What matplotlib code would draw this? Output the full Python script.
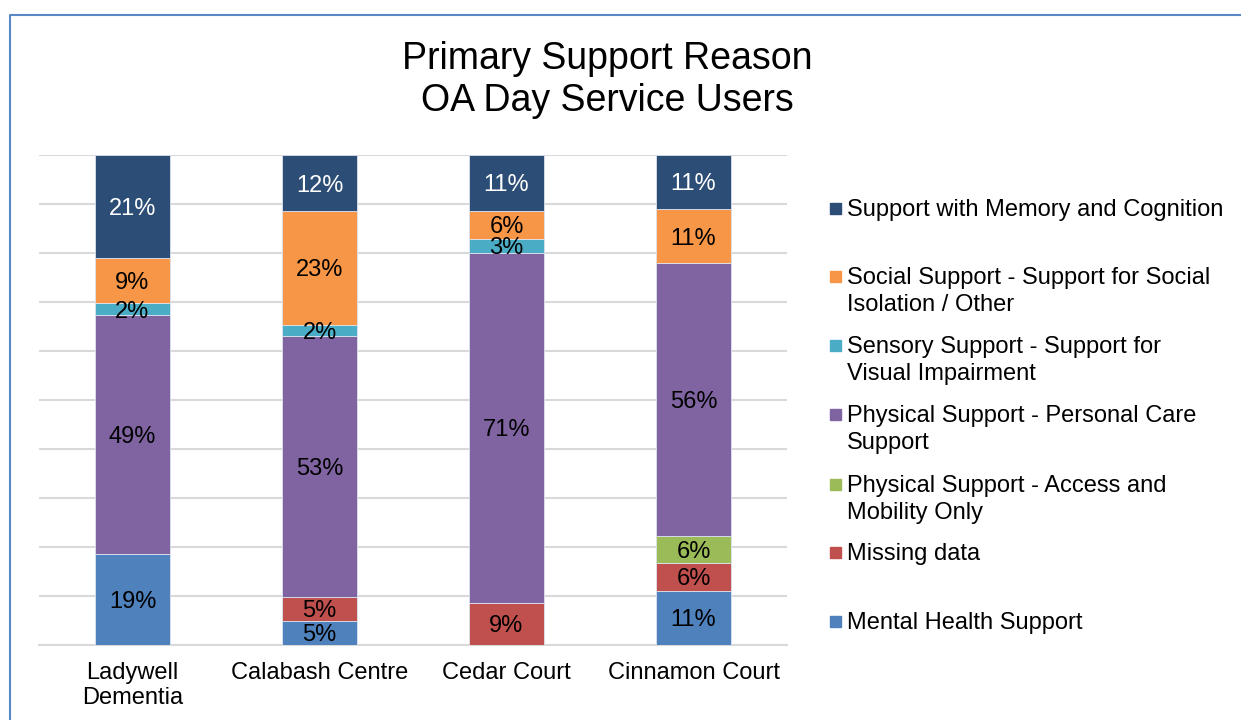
import matplotlib
matplotlib.use("Agg")
import matplotlib.pyplot as plt
from matplotlib.patches import Rectangle
from matplotlib.lines import Line2D

plt.rcParams['font.family'] = ['Liberation Sans', 'DejaVu Sans']

W, H = 1241, 720

sites = ["Ladywell\nDementia", "Calabash Centre", "Cedar Court", "Cinnamon Court"]

# stacked bottom -> top
mental_health = [18.6, 4.9, 0, 11.1]
missing_data = [0, 4.9, 8.6, 5.6]
access_mobility = [0, 0, 0, 5.6]
personal_care = [48.8, 53.3, 71.4, 55.6]
sensory = [2.3, 2.3, 2.9, 0]
social = [9.3, 23.1, 5.7, 11.1]
memory = [20.9, 11.5, 11.4, 11.1]

series_names = ["Mental Health Support", "Missing data",
                "Physical Support - Access and\nMobility Only",
                "Physical Support - Personal Care\nSupport",
                "Sensory Support - Support for\nVisual Impairment",
                "Social Support - Support for Social\nIsolation / Other",
                "Support with Memory and Cognition"]
series = [mental_health, missing_data, access_mobility, personal_care,
          sensory, social, memory]
colors = ["#4F81BD", "#C0504D", "#9BBB59", "#8064A2", "#4BACC6", "#F79646", "#2C4D75"]
label_colors = ["black", "black", "black", "black", "black", "black", "white"]

fig = plt.figure(figsize=(W / 100, H / 100), dpi=100)
ax = fig.add_axes([39 / W, 1 - 645 / H, 748 / W, 490 / H])

x = list(range(len(sites)))
bottom = [0] * len(sites)
for vals, col, lc in zip(series, colors, label_colors):
    ax.bar(x, vals, 0.4, bottom=bottom, color=col, edgecolor="#DCE3EE",
           linewidth=0.6, zorder=3)
    for i, v in enumerate(vals):
        if v > 0:
            ax.text(i, bottom[i] + v / 2, "%.0f%%" % v, ha="center",
                    va="center_baseline", fontsize=17, color=lc, zorder=4)
    bottom = [b + v for b, v in zip(bottom, vals)]

ax.set_xlim(-0.5, 3.5)
ax.set_ylim(0, 100)
ax.set_yticks(range(0, 101, 10))
ax.yaxis.grid(True, color="#D9D9D9", linewidth=1.5, zorder=0)
ax.set_yticklabels([])
ax.tick_params(axis="y", length=0)
ax.set_xticks(x)
ax.set_xticklabels(sites, fontsize=17)
ax.tick_params(axis="x", length=0, pad=12)
for s in ["top", "right", "left"]:
    ax.spines[s].set_visible(False)
ax.spines["bottom"].set_color("#D9D9D9")
ax.spines["bottom"].set_linewidth(1.5)

# title
fig.text(607 / W, 1 - 41 / H, "Primary Support Reason\nOA Day Service Users",
         ha="center", va="top", fontsize=27, linespacing=1.22)

# legend, drawn by hand to keep Excel's spacing
legend_y = [208, 276, 345, 414, 484, 552, 621]
for name, col, y in zip(series_names[::-1], colors[::-1], legend_y):
    fig.add_artist(Rectangle((830 / W, 1 - (y + 6) / H), 11 / W, 11 / H,
                             transform=fig.transFigure, color=col))
    for k, line in enumerate(name.split("\n")):
        fig.text(847 / W, 1 - (y + 2 + 27 * k) / H, line, ha="left", va="center",
                 fontsize=17)

# chart border
fig.add_artist(Line2D([10 / W, 10 / W, 1], [0, 1 - 15 / H, 1 - 15 / H],
                      transform=fig.transFigure, color="#5A8AC6", linewidth=1.5))

fig.savefig("out.png", dpi=100)
